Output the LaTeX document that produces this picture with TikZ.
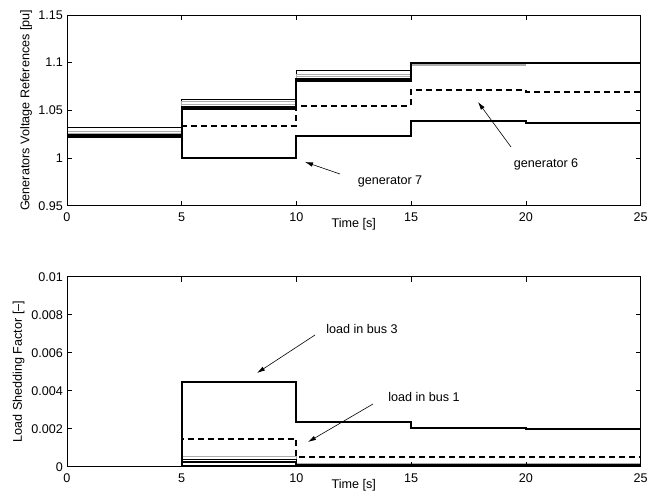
\documentclass[tikz,border=0pt]{standalone}
\usepackage{fontspec}
\setmainfont{Liberation Sans}
\usetikzlibrary{arrows.meta}

\begin{document}
\begin{tikzpicture}[x=1bp, y=1bp, font=\fontsize{12.6bp}{15bp}\selectfont,
        frame/.style={line width=0.8bp},
        tick/.style={line width=0.6bp},
        thickcurve/.style={line width=2bp},
        thincurve/.style={line width=0.6bp},
        graycurve/.style={line width=0.9bp, gray!65},
        dashcurve/.style={line width=2bp, dash pattern=on 6bp off 4bp},
        note/.style={inner sep=1bp},
        pointer/.style={-{Latex[length=8bp,width=4.5bp]}, line width=0.6bp}]
        \useasboundingbox (0,0) rectangle (657,500);

        % upper axes: generator voltage references
        \begin{scope}[shift={(67bp,-611.4bp)}, x=22.94bp, y=953.4bp]
                \draw[thincurve] (0,1.032) -- (5,1.032) -- (5,1.062) -- (10,1.062) -- (10,1.092) -- (15,1.092) -- (15,1.1) -- (25,1.1);
                \draw[graycurve] (0,1.028) -- (5,1.028) -- (5,1.059) -- (10,1.059) -- (10,1.088) -- (15,1.088) -- (15,1.097) -- (20,1.097);
                \draw[graycurve] (0,1.026) -- (5,1.026) -- (5,1.056) -- (10,1.056) -- (10,1.086) -- (15,1.086) -- (15,1.098) -- (20,1.098);
                \draw[thickcurve] (0,1.024) -- (5,1.024) -- (5,1.053) -- (10,1.053) -- (10,1.083) -- (15,1.083) -- (15,1.1) -- (25,1.1);
                \draw[thickcurve] (0,1.022) -- (5,1.022) -- (5,1.051) -- (10,1.051) -- (10,1.081) -- (15,1.081) -- (15,1.1) -- (25,1.1);
                \draw[thickcurve] (0,1.022) -- (5,1.022) -- (5,1.0) -- (10,1.0) -- (10,1.023) -- (15,1.023) -- (15,1.039) -- (20,1.039) -- (20,1.037) -- (25,1.037);
                \draw[dashcurve] (5,1.023) -- (5,1.034) -- (10,1.034) -- (10,1.055) -- (15,1.055) -- (15,1.071) -- (20,1.071) -- (20,1.069) -- (25,1.069);
                \foreach \t in {5,10,15,20} {
                        \draw[tick] (\t,0.95) -- ++(0,5bp);
                        \draw[tick] (\t,1.15) -- ++(0,-5bp);
                }
                \foreach \v in {1,1.05,1.1} {
                        \draw[tick] (0,\v) -- ++(5bp,0);
                        \draw[tick] (25,\v) -- ++(-5bp,0);
                }
                \draw[frame] (0,0.95) rectangle (25,1.15);
                \foreach \t in {0,5,...,25}
                        \node[anchor=north, inner sep=0pt] (tt\t) at (\t,0.95) [yshift=-7bp] {\t};
                \foreach \v in {0.95,1,1.05,1.1,1.15}
                        \node[anchor=east, inner sep=0pt] at (0,\v) [xshift=-4bp] {\v};
                \node (xlabtop) at (12.5,0.95) [yshift=-18.5bp] {Time [s]};
                \path (0,1.05) ++(-41bp,0) node[rotate=90] (ylabtop) {Generators Voltage References [pu]};
        \end{scope}

        % lower axes: load shedding factor (values in 1e-3)
        \begin{scope}[shift={(67bp,33.3bp)}, x=22.94bp, y=19bp]
                \draw[graycurve] (0,0) -- (5,0);
                \draw[graycurve] (5,0) -- (5,0.53) -- (10,0.53) -- (10,0.18) -- (25,0.18);
                \draw[thincurve] (5,0.39) -- (10,0.39) -- (10,0.1) -- (25,0.1);
                \draw[thickcurve] (5,0) -- (5,0.23) -- (10,0.23) -- (10,0.05) -- (25,0.05);
                \draw[thickcurve] (5,0.03) -- (25,0.03);
                \draw[thickcurve] (5,0) -- (5,4.45) -- (10,4.45) -- (10,2.35) -- (15,2.35) -- (15,2.05) -- (20,2.05) -- (20,1.97) -- (25,1.97);
                \draw[dashcurve] (5,0.2) -- (5,1.47) -- (10,1.47) -- (10,0.5) -- (25,0.5);
                \foreach \t in {5,10,15,20} {
                        \draw[tick] (\t,0) -- ++(0,5bp);
                        \draw[tick] (\t,10) -- ++(0,-5bp);
                }
                \foreach \v in {2,4,6,8} {
                        \draw[tick] (0,\v) -- ++(5bp,0);
                        \draw[tick] (25,\v) -- ++(-5bp,0);
                }
                \draw[frame] (0,0) rectangle (25,10);
                \foreach \t in {0,5,...,25}
                        \node[anchor=north, inner sep=0pt] (tb\t) at (\t,0) [yshift=-7bp] {\t};
                \foreach \v/\l in {0/0,2/0.002,4/0.004,6/0.006,8/0.008,10/0.01}
                        \node[anchor=east, inner sep=0pt] at (0,\v) [xshift=-4bp] {\l};
                \node (xlabbot) at (12.5,0) [yshift=-18.5bp] {Time [s]};
                \path (0,5) ++(-48.5bp,0) node[rotate=90] (ylabbot) {Load Shedding Factor [--]};
        \end{scope}

        % annotations
        \node[note] (gen7) at (390,319) {generator 7};
        \node[note] (gen6) at (546,336) {generator 6};
        \node[note] (bus3) at (362,171) {load in bus 3};
        \node[note] (bus1) at (424,103) {load in bus 1};
        \coordinate (gen7tail) at (340,326);
        \coordinate (gen7tip) at (305,338);
        \coordinate (gen6tail) at (511,353);
        \coordinate (gen6tip) at (478,398);
        \coordinate (bus3tail) at (315,165);
        \coordinate (bus3tip) at (257,127);
        \coordinate (bus1tail) at (373,96);
        \coordinate (bus1tip) at (308,58);
        \draw[pointer] (gen7tail) -- (gen7tip);
        \draw[pointer] (gen6tail) -- (gen6tip);
        \draw[pointer] (bus3tail) -- (bus3tip);
        \draw[pointer] (bus1tail) -- (bus1tip);
\end{tikzpicture}
\end{document}
